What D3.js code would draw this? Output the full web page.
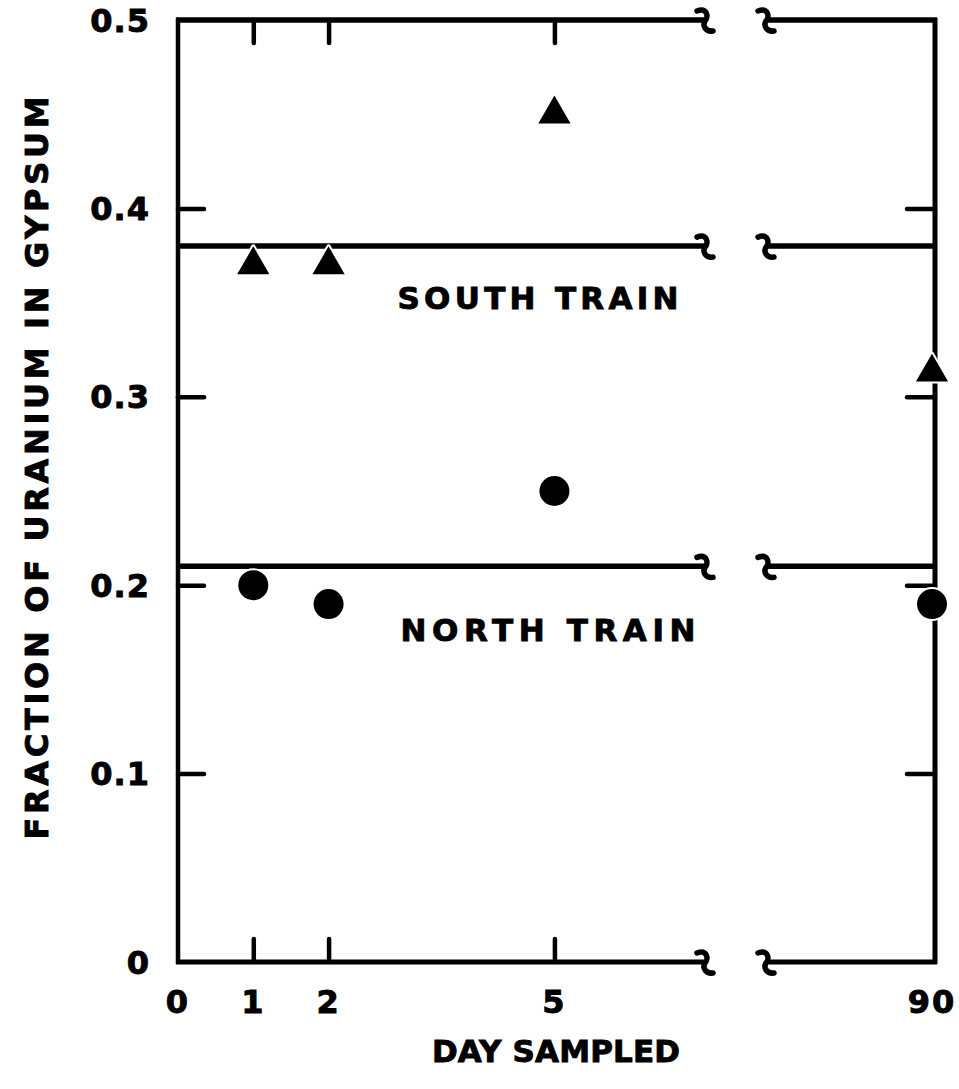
<!DOCTYPE html>
<html>
<head>
<meta charset="utf-8">
<script src="https://cdn.jsdelivr.net/npm/d3@7"></script>
<style>
  html, body { margin: 0; padding: 0; background: #fff; }
  svg { display: block; }
  text { font-family: "DejaVu Sans", "Liberation Sans", sans-serif; font-weight: bold; fill: #000; stroke: #000; stroke-width: 0.9px; }
</style>
</head>
<body>
<svg id="chart" width="959" height="1089"></svg>
<script>
// ---- data ----
const days = [1, 2, 5, 90];
const southTrain = [0.37, 0.37, 0.45, 0.313];
const northTrain = [0.20, 0.19, 0.25, 0.19];
const southLevel = 0.38;
const northLevel = 0.21;
const yTicks = [0, 0.1, 0.2, 0.3, 0.4, 0.5];
const yTickLabels = ["0", "0.1", "0.2", "0.3", "0.4", "0.5"];
const xTicks = [0, 1, 2, 5, 90];
const xTickLabels = ["0", "1", "2", "5", "90"];
const innerTicksX = [1, 2, 5];
const innerTicksY = [0.1, 0.2, 0.3, 0.4];
const axisBreak = [7, 88];   // days where the x axis is broken
const xTitle = "DAY SAMPLED";
const yTitle = "FRACTION OF URANIUM IN GYPSUM";
const southLabel = "SOUTH TRAIN";
const northLabel = "NORTH TRAIN";

// ---- scales ----
const x = d3.scaleLinear().domain([0, 7, 88, 90]).range([178, 705, 766, 932]);
const xRight = 935;
const y = d3.scaleLinear().domain([0, 0.5]).range([962, 20]);

const svg = d3.select("#chart");
const g = svg.append("g");

// segmented horizontal line with break marks
function brokenLine(val, width) {
  const yy = y(val);
  g.append("line").attr("x1", x(0) - 2).attr("x2", x(axisBreak[0]))
    .attr("y1", yy).attr("y2", yy).attr("stroke", "#000").attr("stroke-width", width);
  g.append("line").attr("x1", x(axisBreak[1])).attr("x2", xRight + 2)
    .attr("y1", yy).attr("y2", yy).attr("stroke", "#000").attr("stroke-width", width);
  axisBreak.forEach(d => {
    const bx = x(d);
    g.append("path")
      .attr("d", `M${bx - 8},${yy - 9} C${bx + 2},${yy - 13} ${bx + 4},${yy - 3} ${bx},${yy + 1} C${bx - 3},${yy + 6} ${bx + 1},${yy + 12} ${bx + 8},${yy + 11}`)
      .attr("fill", "none").attr("stroke", "#000").attr("stroke-width", 5.5)
      .attr("stroke-linecap", "round");
  });
}

// frame: left & right full, top/bottom broken
g.append("line").attr("x1", x(0)).attr("x2", x(0)).attr("y1", y(0) + 2).attr("y2", y(0.5) - 2)
  .attr("stroke", "#000").attr("stroke-width", 4.5);
g.append("line").attr("x1", xRight).attr("x2", xRight).attr("y1", y(0) + 2).attr("y2", y(0.5) - 2)
  .attr("stroke", "#000").attr("stroke-width", 5);
brokenLine(0.5, 5.5);
brokenLine(0, 5);
brokenLine(southLevel, 5.5);
brokenLine(northLevel, 5.5);

// inner ticks via d3 axes (domain hidden)
const axB = g.append("g").attr("transform", `translate(0,${y(0)})`)
  .call(d3.axisBottom(x).tickValues(innerTicksX).tickSize(-23).tickFormat(""));
const axT = g.append("g").attr("transform", `translate(0,${y(0.5)})`)
  .call(d3.axisTop(x).tickValues(innerTicksX).tickSize(-23).tickFormat(""));
const axL = g.append("g").attr("transform", `translate(${x(0)},0)`)
  .call(d3.axisLeft(y).tickValues(innerTicksY).tickSize(-26).tickFormat(""));
const axR = g.append("g").attr("transform", `translate(${xRight},0)`)
  .call(d3.axisRight(y).tickValues(innerTicksY).tickSize(-28).tickFormat(""));
[axB, axT, axL, axR].forEach(a => {
  a.select(".domain").remove();
  a.selectAll(".tick line").attr("stroke", "#000").attr("stroke-width", 4.5).attr("stroke-linecap", "round");
});

// tick labels
g.append("g").selectAll("text").data(yTicks).join("text")
  .attr("x", 150).attr("y", d => y(d)).attr("dy", "0.36em")
  .attr("text-anchor", "end").attr("font-size", 32).attr("letter-spacing", 1)
  .text((d, i) => yTickLabels[i]);
g.append("g").selectAll("text").data(xTicks).join("text")
  .attr("x", d => x(d)).attr("y", 1001).attr("dy", "0.36em")
  .attr("text-anchor", "middle").attr("font-size", 32).attr("letter-spacing", 2)
  .text((d, i) => xTickLabels[i]);

// axis titles
g.append("text").attr("transform", "translate(36,468) rotate(-90)")
  .attr("text-anchor", "middle").attr("dy", "0.36em").attr("font-size", 32)
  .attr("textLength", 743).attr("lengthAdjust", "spacing").text(yTitle);
g.append("text").attr("x", 556).attr("y", 1051).attr("dy", "0.36em")
  .attr("text-anchor", "middle").attr("font-size", 31)
  .attr("textLength", 248).attr("lengthAdjust", "spacing").text(xTitle);

// in-plot labels
g.append("text").attr("x", 538).attr("y", 298).attr("dy", "0.36em")
  .attr("text-anchor", "middle").attr("font-size", 31)
  .attr("textLength", 281).attr("lengthAdjust", "spacing").text(southLabel);
g.append("text").attr("x", 548).attr("y", 630).attr("dy", "0.36em")
  .attr("text-anchor", "middle").attr("font-size", 31)
  .attr("textLength", 295).attr("lengthAdjust", "spacing").text(northLabel);

// markers
const tri = d3.symbol().type(d3.symbolTriangle).size(450);
g.append("g").selectAll("path").data(days).join("path")
  .attr("d", tri)
  .attr("transform", (d, i) => `translate(${x(d)},${y(southTrain[i])})`)
  .attr("fill", "#000").attr("stroke", "#fff").attr("stroke-width", 4)
  .attr("stroke-linejoin", "round").style("paint-order", "stroke");
g.append("g").selectAll("circle").data(days).join("circle")
  .attr("cx", d => x(d)).attr("cy", (d, i) => y(northTrain[i])).attr("r", 15)
  .attr("fill", "#000").attr("stroke", "#fff").attr("stroke-width", 4)
  .style("paint-order", "stroke");
</script>
</body>
</html>
